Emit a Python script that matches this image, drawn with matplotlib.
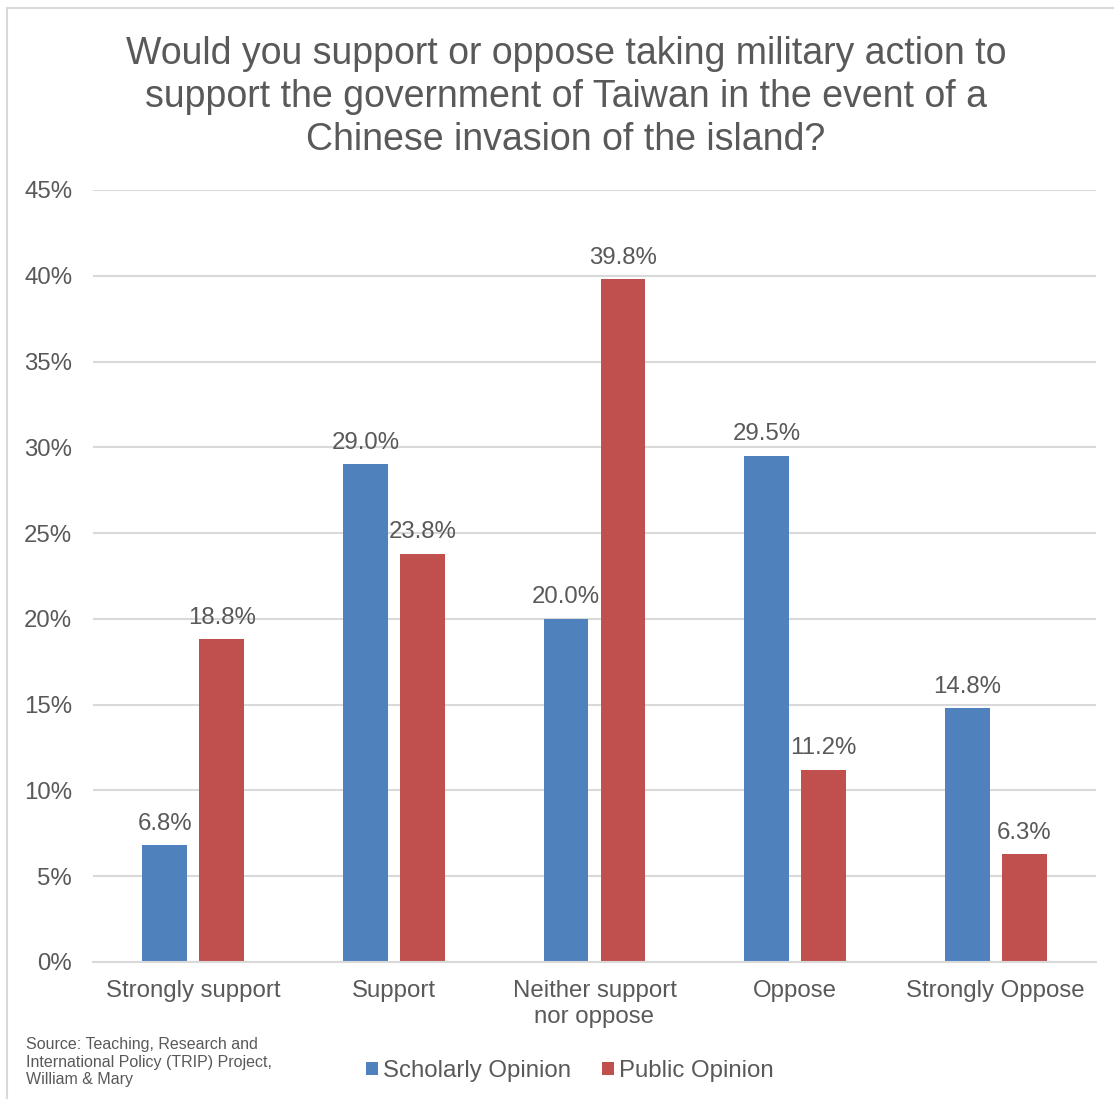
import matplotlib
matplotlib.use("Agg")
import matplotlib.pyplot as plt
from matplotlib.patches import Patch, Rectangle
import numpy as np

plt.rcParams['font.family'] = ['Liberation Sans', 'DejaVu Sans']

categories = ["Strongly support", "Support", "Neither support\nnor oppose", "Oppose", "Strongly Oppose"]
scholarly = [6.8, 29.0, 20.0, 29.5, 14.8]
public = [18.8, 23.8, 39.8, 11.2, 6.3]
series_names = ["Scholarly Opinion", "Public Opinion"]
yticks = [0, 5, 10, 15, 20, 25, 30, 35, 40, 45]
title = ("Would you support or oppose taking military action to\n"
         "support the government of Taiwan in the event of a\n"
         "Chinese invasion of the island?")
source = "Source: Teaching, Research and\nInternational Policy (TRIP) Project,\nWilliam & Mary"

BLUE = "#4F81BD"
RED = "#C0504D"
TXT = "#595959"
GRID = "#D9D9D9"

W, H = 1114, 1099
fig = plt.figure(figsize=(W/100, H/100), dpi=100)
ax = fig.add_axes([93/W, 1-962/H, (1096-93)/W, (962-190)/H])

x = np.arange(len(categories))
bw = 0.224
off = 0.142
b1 = ax.bar(x - off, scholarly, bw, color=BLUE, zorder=3)
b2 = ax.bar(x + off, public, bw, color=RED, zorder=3)

for bars, vals in ((b1, scholarly), (b2, public)):
    for r, v in zip(bars, vals):
        ax.annotate(f"{v:.1f}%", (r.get_x() + r.get_width()/2, v),
                    xytext=(0, 7.5), textcoords="offset points",
                    ha="center", va="bottom", fontsize=17.3, color=TXT)

ax.set_xlim(-0.5, len(categories) - 0.5)
ax.set_ylim(0, 45)
ax.set_yticks(yticks)
ax.set_yticklabels([f"{t}%" for t in yticks])
ax.set_xticks(x)
ax.set_xticklabels(categories, linespacing=1.25)
ax.tick_params(axis="both", length=0, labelsize=17.3, labelcolor=TXT)
ax.tick_params(axis="x", pad=13)
ax.tick_params(axis="y", pad=15)
ax.yaxis.grid(True, color=GRID, linewidth=1.5, zorder=0)
for s in ("left", "right", "top"):
    ax.spines[s].set_visible(False)
ax.spines["bottom"].set_color(GRID)
ax.spines["bottom"].set_linewidth(1.5)
ax.spines["bottom"].set_zorder(4)

fig.text(566/W, 1-97/H, title, ha="center", va="center", fontsize=27,
         color=TXT, linespacing=1.24)

fig.text(26/W, 1-1062/H, source, ha="left", va="center", fontsize=11.5,
         color=TXT, linespacing=1.2)

handles = [Patch(facecolor=BLUE), Patch(facecolor=RED)]
fig.legend(handles, series_names, loc="center", bbox_to_anchor=(570/W, 1-1071/H),
           ncol=2, frameon=False, fontsize=17.3, handlelength=0.5, handleheight=0.5,
           handletextpad=0.2, columnspacing=1.3, labelcolor=TXT)

fig.patches.append(Rectangle((7/W, -0.1), 1.2, 1.1 - 8/H, transform=fig.transFigure,
                             fill=False, edgecolor=GRID, linewidth=1.5, zorder=0))

fig.savefig("out.png", dpi=100, facecolor="white")
